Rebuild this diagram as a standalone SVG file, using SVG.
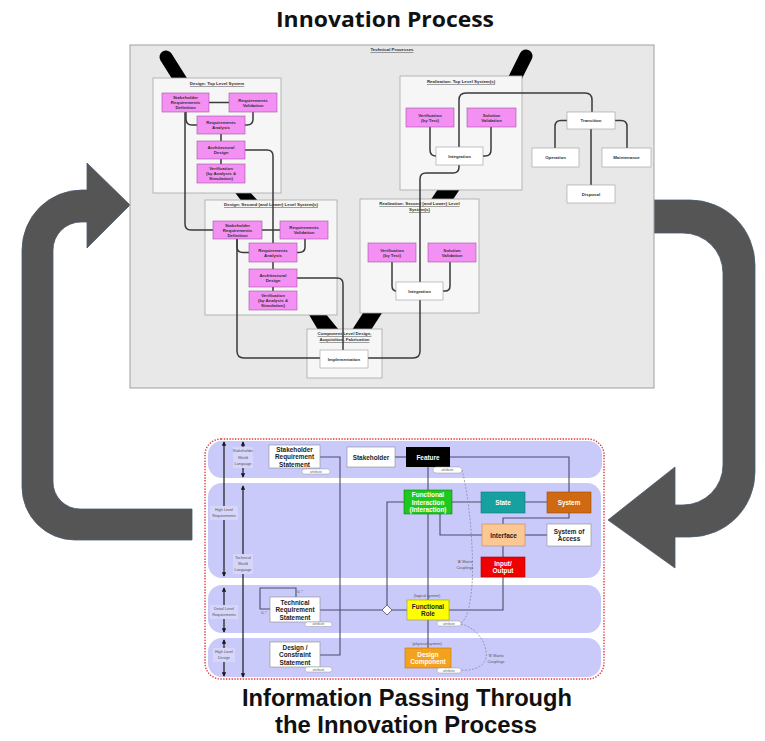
<svg xmlns="http://www.w3.org/2000/svg" width="765" height="741" viewBox="0 0 765 741">
  <defs>
    <style>
      .title { font-family: "Open Sans", "Liberation Sans", sans-serif; font-weight: 700; fill: #111; text-anchor: middle; }
      .title2 { font-family: "Liberation Sans", Arial, sans-serif; font-weight: 700; fill: #111; text-anchor: middle; }
      .panel { fill: #e8e8e8; stroke: #a0a0a0; stroke-width: 1; }
      .grp { fill: #f6f6f6; stroke: #a8a8a8; stroke-width: 0.8; }
      .pink { fill: #f490f4; stroke: #a050a0; stroke-width: 0.6; }
      .wbox { fill: #ffffff; stroke: #9a9a9a; stroke-width: 0.6; }
      .t { font-family: "Liberation Sans", Arial, sans-serif; font-weight: 700; font-size: 4.4px; fill: #303030; text-anchor: middle; dominant-baseline: central; }
      .hd { font-family: "Liberation Sans", Arial, sans-serif; font-weight: 700; font-size: 4.4px; fill: #303030; text-anchor: middle; text-decoration: underline; }
      .wire { fill: none; stroke: #3a3a3a; stroke-width: 1.5; }
      .bar { fill: #000; }
      .bigarrow { fill: #555555; stroke: #4a5a70; stroke-width: 0.8; }
      .band { fill: #c9c9fa; }
      .n { stroke: #8a8a8a; stroke-width: 0.6; }
      .nt { font-family: "Liberation Sans", Arial, sans-serif; font-weight: 700; font-size: 6.4px; text-anchor: middle; dominant-baseline: central; }
      .w { fill: #ffffff; }
      .k { fill: #222222; }
      .link { fill: none; stroke: #4c4c6c; stroke-width: 1.1; }
      .dash { fill: none; stroke: #8a8aa8; stroke-width: 0.8; stroke-dasharray: 2 1.5; }
      .pill { fill: #ffffff; stroke: #9a9a9a; stroke-width: 0.5; }
      .pt { font-family: "Liberation Sans", Arial, sans-serif; font-size: 3.3px; fill: #666; text-anchor: middle; dominant-baseline: central; }
      .lab { font-family: "Liberation Sans", Arial, sans-serif; font-size: 3.8px; fill: #555; text-anchor: middle; dominant-baseline: central; }
      .axis { fill: none; stroke: #1a1a1a; stroke-width: 1.2; marker-start: url(#ah); marker-end: url(#ah); }
      .labbg { fill: #d6d6fb; }
    </style>
    <marker id="ah" viewBox="0 0 6 6" refX="5" refY="3" markerWidth="4.5" markerHeight="4.5" orient="auto-start-reverse" markerUnits="userSpaceOnUse">
      <path d="M0 0 L6 3 L0 6 Z" fill="#1a1a1a"/>
    </marker>
  </defs>

  <rect width="765" height="741" fill="#ffffff"/>

  <!-- titles -->
  <text class="title" x="385" y="27" font-size="22" textLength="218" lengthAdjust="spacingAndGlyphs">Innovation Process</text>
  <text class="title2" x="407" y="706" font-size="23" textLength="330" lengthAdjust="spacingAndGlyphs">Information Passing Through</text>
  <text class="title2" x="406" y="733" font-size="23" textLength="262" lengthAdjust="spacingAndGlyphs">the Innovation Process</text>

  <!-- feedback loop arrows -->
  <g id="loop-arrows">
    <path id="arrow-right" class="bigarrow" d="M654 200 L690 200 A65 65 0 0 1 755 265 L755 472 A65 65 0 0 1 690 537 L675 537 L675 568 L608 520 L675 467 L675 505 L683 505 A40 40 0 0 0 723 465 L723 273 A40 40 0 0 0 683 233 L654 233 Z"/>
    <path id="arrow-left" class="bigarrow" d="M87 163 L130 205 L87 248 L87 222 L81 222 A28 28 0 0 0 53 250 L53 482 A27 27 0 0 0 80 509 L192 509 L192 540 L75 540 A53 53 0 0 1 22 487 L22 250 A60 60 0 0 1 82 190 L87 190 Z"/>
  </g>

  <!-- ===== Technical processes panel ===== -->
  <g id="technical-processes">
    <rect class="panel" x="130" y="45" width="524" height="343"/>
    <text class="hd" x="392" y="51">Technical Processes</text>

    <!-- black V-model bands -->
    <g id="v-bands">
      <line x1="166" y1="57" x2="183" y2="84" stroke="#000" stroke-width="13" stroke-linecap="round"/>
      <polygon class="bar" points="233,190 248,190 260,203 243,203"/>
      <line x1="526" y1="56" x2="513" y2="82" stroke="#000" stroke-width="13" stroke-linecap="round"/>
      <polygon class="bar" points="440,186 462,186 450,204 428,204"/>
      <polygon class="bar" points="308,313 325,313 339,330 318,330"/>
      <polygon class="bar" points="363,313 382,313 371,330 352,330"/>
    </g>

    <g id="design-top">
      <rect class="grp" x="153" y="78" width="128" height="115"/>
      <text class="hd" x="217" y="85">Design: Top Level System</text>
    </g>
    <g id="realization-top">
      <rect class="grp" x="400" y="76" width="122" height="114"/>
      <text class="hd" x="461" y="83">Realization: Top Level System(s)</text>
    </g>
    <g id="design-second">
      <rect class="grp" x="205" y="200" width="132" height="115"/>
      <text class="hd" x="271" y="206">Design: Second (and Lower) Level System(s)</text>
    </g>
    <g id="realization-second">
      <rect class="grp" x="360" y="199" width="119" height="114"/>
      <text class="hd" x="419.5" y="205">Realization: Second (and Lower) Level</text>
      <text class="hd" x="419.5" y="211">System(s)</text>
    </g>
    <g id="component-level">
      <rect class="grp" x="307" y="329" width="75" height="49"/>
      <text class="hd" x="344.5" y="335">Component Level Design,</text>
      <text class="hd" x="344.5" y="341">Acquisition, Fabrication</text>
    </g>

    <!-- process flow lines -->
    <g id="process-connectors">
      <path class="wire" d="M209 102.5 H229"/>
      <path class="wire" d="M186 112 V119 Q186 125 192 125 H197"/>
      <path class="wire" d="M253 112 V119 Q253 125 247 125 H245"/>
      <path class="wire" d="M221 134 V141 M221 159 V164"/>
      <path class="wire" d="M185 112 V224 Q185 230 191 230 H213"/>
      <path class="wire" d="M245 150 H267 Q273 150 273 156 V243"/>

      <path class="wire" d="M262 230 H280"/>
      <path class="wire" d="M237 239 V247 Q237 252.5 243 252.5 H249"/>
      <path class="wire" d="M305 239 V247 Q305 252.5 299 252.5 H297"/>
      <path class="wire" d="M273 262 V269 M273 287 V291"/>
      <path class="wire" d="M237 239 V351 Q237 358 244 358 H320"/>
      <path class="wire" d="M297 278 H337 Q343 278 343 284 V350"/>

      <path class="wire" d="M430 127 V150 Q430 156 436 156"/>
      <path class="wire" d="M491 127 V150 Q491 156 485 156 H483"/>
      <path class="wire" d="M459 147 V100 Q459 93 466 93 H585 Q592 93 592 100 V112"/>
      <path class="wire" d="M459 165 V167 Q459 173 453 173 H426 Q420 173 420 179 V282"/>
      <path class="wire" d="M420 300 V351 Q420 358 413 358 H368"/>

      <path class="wire" d="M567 120.5 H561 Q555 120.5 555 126.5 V148"/>
      <path class="wire" d="M615 120.5 H621 Q627 120.5 627 126.5 V148"/>
      <path class="wire" d="M591 129 V185"/>

      <path class="wire" d="M392 262 V286 Q392 291 397 291"/>
      <path class="wire" d="M450 262 V286 Q450 291 445 291 H443"/>
    </g>

    <!-- process boxes: design, top level -->
    <g id="srd-top"><rect class="pink" x="162" y="93" width="47" height="19"/>
      <text class="t" x="185.5" y="97.5">Stakeholder</text><text class="t" x="185.5" y="102.5">Requirements</text><text class="t" x="185.5" y="107.5">Definition</text></g>
    <g id="rv-top"><rect class="pink" x="229" y="93" width="48" height="19"/>
      <text class="t" x="253" y="100">Requirements</text><text class="t" x="253" y="105">Validation</text></g>
    <g id="ra-top"><rect class="pink" x="197" y="116" width="48" height="18"/>
      <text class="t" x="221" y="122.5">Requirements</text><text class="t" x="221" y="127.5">Analysis</text></g>
    <g id="ad-top"><rect class="pink" x="197" y="141" width="48" height="18"/>
      <text class="t" x="221" y="147.5">Architectural</text><text class="t" x="221" y="152.5">Design</text></g>
    <g id="ver-top"><rect class="pink" x="197" y="164" width="48" height="19"/>
      <text class="t" x="221" y="168.5">Verification</text><text class="t" x="221" y="173.5">(by Analysis &amp;</text><text class="t" x="221" y="178.5">Simulation)</text></g>

    <!-- design, second level -->
    <g id="srd-second"><rect class="pink" x="213" y="221" width="49" height="18"/>
      <text class="t" x="237.5" y="225">Stakeholder</text><text class="t" x="237.5" y="230">Requirements</text><text class="t" x="237.5" y="235">Definition</text></g>
    <g id="rv-second"><rect class="pink" x="280" y="221" width="48" height="18"/>
      <text class="t" x="304" y="227.5">Requirements</text><text class="t" x="304" y="232.5">Validation</text></g>
    <g id="ra-second"><rect class="pink" x="249" y="243" width="48" height="19"/>
      <text class="t" x="273" y="250">Requirements</text><text class="t" x="273" y="255">Analysis</text></g>
    <g id="ad-second"><rect class="pink" x="249" y="269" width="48" height="18"/>
      <text class="t" x="273" y="275.5">Architectural</text><text class="t" x="273" y="280.5">Design</text></g>
    <g id="ver-second"><rect class="pink" x="249" y="291" width="48" height="19"/>
      <text class="t" x="273" y="295.5">Verification</text><text class="t" x="273" y="300.5">(by Analysis &amp;</text><text class="t" x="273" y="305.5">Simulation)</text></g>

    <!-- realization, top level -->
    <g id="vt-top"><rect class="pink" x="406" y="108" width="48" height="19"/>
      <text class="t" x="430" y="115">Verification</text><text class="t" x="430" y="120">(by Test)</text></g>
    <g id="sv-top"><rect class="pink" x="467" y="108" width="49" height="19"/>
      <text class="t" x="491.5" y="115">Solution</text><text class="t" x="491.5" y="120">Validation</text></g>
    <g id="int-top"><rect class="wbox" x="436" y="147" width="47" height="18"/>
      <text class="t" x="459.5" y="156">Integration</text></g>

    <!-- realization, second level -->
    <g id="vt-second"><rect class="pink" x="368" y="243" width="48" height="19"/>
      <text class="t" x="392" y="250">Verification</text><text class="t" x="392" y="255">(by Test)</text></g>
    <g id="sv-second"><rect class="pink" x="428" y="243" width="48" height="19"/>
      <text class="t" x="452" y="250">Solution</text><text class="t" x="452" y="255">Validation</text></g>
    <g id="int-second"><rect class="wbox" x="396" y="282" width="47" height="18"/>
      <text class="t" x="419.5" y="291">Integration</text></g>

    <!-- component level -->
    <g id="implementation"><rect class="wbox" x="320" y="350" width="48" height="18"/>
      <text class="t" x="344" y="359">Implementation</text></g>

    <!-- transition and life cycle -->
    <g id="transition"><rect class="wbox" x="567" y="112" width="48" height="17"/>
      <text class="t" x="591" y="120.5">Transition</text></g>
    <g id="operation"><rect class="wbox" x="532" y="148" width="47" height="19"/>
      <text class="t" x="555.5" y="157.5">Operation</text></g>
    <g id="maintenance"><rect class="wbox" x="602" y="148" width="49" height="19"/>
      <text class="t" x="626.5" y="157.5">Maintenance</text></g>
    <g id="disposal"><rect class="wbox" x="567" y="185" width="48" height="18"/>
      <text class="t" x="591" y="194">Disposal</text></g>
  </g>

  <!-- ===== Information model panel ===== -->
  <g id="information-model">
    <rect x="205" y="439" width="399" height="240" rx="16" fill="#ffffff"/>
    <rect class="band" x="208" y="441" width="394" height="37" rx="14"/>
    <rect class="band" x="208" y="483" width="393" height="95" rx="14"/>
    <rect class="band" x="208" y="585" width="393" height="48" rx="14"/>
    <rect class="band" x="208" y="638" width="393" height="39" rx="14"/>
    <rect x="205" y="439" width="399" height="240" rx="16" fill="none" stroke="#e03a3a" stroke-width="1.4" stroke-dasharray="1.4 1.4"/>

    <!-- level axes -->
    <g id="level-axes">
      <line class="axis" x1="224" y1="442" x2="224" y2="576"/>
      <line class="axis" x1="224" y1="588" x2="224" y2="632"/>
      <line class="axis" x1="224" y1="640" x2="224" y2="676"/>
      <line class="axis" x1="243" y1="442" x2="243" y2="477"/>
      <line class="axis" x1="243" y1="486" x2="243" y2="677"/>

      <rect class="labbg" x="233" y="447" width="20" height="21"/>
      <text class="lab" x="243" y="451">Stakeholder</text><text class="lab" x="243" y="457.5">World</text><text class="lab" x="243" y="464">Language</text>
      <rect class="labbg" x="210" y="506" width="28" height="14"/>
      <text class="lab" x="224" y="510">High Level</text><text class="lab" x="224" y="516">Requirements</text>
      <rect class="labbg" x="233" y="554" width="20" height="20"/>
      <text class="lab" x="243" y="558">Technical</text><text class="lab" x="243" y="564">World</text><text class="lab" x="243" y="570">Language</text>
      <rect class="labbg" x="210" y="605" width="28" height="14"/>
      <text class="lab" x="224" y="609">Detail Level</text><text class="lab" x="224" y="615">Requirements</text>
      <rect class="labbg" x="213" y="648" width="22" height="14"/>
      <text class="lab" x="224" y="652">High Level</text><text class="lab" x="224" y="658">Design</text>
    </g>

    <!-- relationships -->
    <g id="model-connectors">
      <path class="link" d="M320 457 H340 V655 H320"/>
      <path class="link" d="M395 457 H406"/>
      <path class="link" d="M450 457 H569 V492"/>
      <path class="link" d="M428 467 V600 M428 620 V648"/>
      <path class="link" d="M452 502 H481 M525 502 H547"/>
      <path class="link" d="M404 502 H387 V605"/>
      <path class="link" d="M440 514 V535 H482"/>
      <path class="link" d="M569 513 V518 H503 V524"/>
      <path class="link" d="M525 535 H547"/>
      <path class="link" d="M503 546 V557"/>
      <path class="link" d="M503 577 V610 H449"/>
      <path class="link" d="M320 610 H382 M392 610 H407"/>
      <path class="link" d="M296 597 V588 H260 V609 H270"/>
      <polygon points="387,605 392,610 387,615 382,610" fill="#ffffff" stroke="#4c4c6c" stroke-width="0.8"/>
      <text class="lab" x="300" y="592">0..*</text>
      <text class="lab" x="264" y="613">0..*</text>
      <path class="dash" d="M462 470 C470 500 474 555 472 585 C470 605 468 618 461 623"/>
      <path class="dash" d="M461 624 C478 628 488 645 486 658 C484 668 470 671 461 670"/>
      <text class="lab" x="465" y="562">'A' Matrix</text><text class="lab" x="465" y="568">Couplings</text>
      <text class="lab" x="496" y="656">'B' Matrix</text><text class="lab" x="496" y="662">Couplings</text>
      <text class="lab" x="427" y="596">(logical system)</text>
      <text class="lab" x="427" y="644">(physical system)</text>
    </g>

    <g id="stakeholder-requirement-statement">
      <rect class="w n" x="269" y="445" width="51" height="23"/>
      <text class="nt k" x="294.5" y="449" font-size="7">Stakeholder</text><text class="nt k" x="294.5" y="456.5" font-size="7">Requirement</text><text class="nt k" x="294.5" y="464" font-size="7">Statement</text>
      <rect class="pill" x="302" y="469" width="28" height="5" rx="2.5"/><text class="pt" x="316" y="471.5">attribute</text>
    </g>
    <g id="stakeholder">
      <rect class="w n" x="347" y="447" width="48" height="20"/>
      <text class="nt k" x="371" y="457">Stakeholder</text>
    </g>
    <g id="feature">
      <rect x="406" y="447" width="44" height="20" fill="#000000"/>
      <text class="nt w" x="428" y="457" font-size="7">Feature</text>
      <rect class="pill" x="433" y="467" width="29" height="6" rx="3"/><text class="pt" x="447.5" y="470">attribute</text>
    </g>
    <g id="functional-interaction">
      <rect x="404" y="490" width="48" height="24" fill="#1fc81f" stroke="#128012" stroke-width="0.6"/>
      <text class="nt w" x="428" y="494.5" font-size="6">Functional</text><text class="nt w" x="428" y="502" font-size="6">Interaction</text><text class="nt w" x="428" y="509.5" font-size="6">(Interaction)</text>
    </g>
    <g id="state">
      <rect x="481" y="492" width="44" height="21" fill="#17a0a0" stroke="#0f7a7a" stroke-width="0.6"/>
      <text class="nt w" x="503" y="502.5">State</text>
    </g>
    <g id="system">
      <rect x="547" y="492" width="44" height="21" fill="#cf6a12" stroke="#9a4c08" stroke-width="0.6"/>
      <text class="nt w" x="569" y="502.5">System</text>
    </g>
    <g id="interface">
      <rect x="482" y="524" width="43" height="22" fill="#fbc894" stroke="#c08860" stroke-width="0.6"/>
      <text class="nt k" x="503.5" y="535">Interface</text>
    </g>
    <g id="system-of-access">
      <rect class="w n" x="547" y="524" width="44" height="22"/>
      <text class="nt k" x="569" y="531.5">System of</text><text class="nt k" x="569" y="538.5">Access</text>
    </g>
    <g id="input-output">
      <rect x="481" y="557" width="44" height="20" fill="#f00000" stroke="#b00000" stroke-width="0.6"/>
      <text class="nt w" x="503" y="563.5">Input/</text><text class="nt w" x="503" y="570.5">Output</text>
    </g>
    <g id="technical-requirement-statement">
      <rect class="w n" x="270" y="597" width="50" height="25"/>
      <text class="nt k" x="295" y="602">Technical</text><text class="nt k" x="295" y="609.5">Requirement</text><text class="nt k" x="295" y="617">Statement</text>
      <rect class="pill" x="305" y="622" width="27" height="4.5" rx="2.2"/><text class="pt" x="318.5" y="624.2">attribute</text>
    </g>
    <g id="functional-role">
      <rect x="407" y="600" width="42" height="20" fill="#ffff00" stroke="#a0a000" stroke-width="0.6"/>
      <text class="nt k" x="428" y="606.5">Functional</text><text class="nt k" x="428" y="613.5">Role</text>
      <rect class="pill" x="437" y="621" width="24" height="5" rx="2.5"/><text class="pt" x="449" y="623.5">attribute</text>
    </g>
    <g id="design-constraint-statement">
      <rect class="w n" x="270" y="642" width="50" height="25"/>
      <text class="nt k" x="295" y="647">Design /</text><text class="nt k" x="295" y="654.5">Constraint</text><text class="nt k" x="295" y="662">Statement</text>
      <rect class="pill" x="305" y="667" width="27" height="5" rx="2.5"/><text class="pt" x="318.5" y="669.5">attribute</text>
    </g>
    <g id="design-component">
      <rect x="405" y="648" width="46" height="20" fill="#f4a11e" stroke="#c07a10" stroke-width="0.6"/>
      <text class="nt w" x="428" y="654.5">Design</text><text class="nt w" x="428" y="661.5">Component</text>
      <rect class="pill" x="437" y="668" width="24" height="5" rx="2.5"/><text class="pt" x="449" y="670.5">attribute</text>
    </g>
  </g>
</svg>
